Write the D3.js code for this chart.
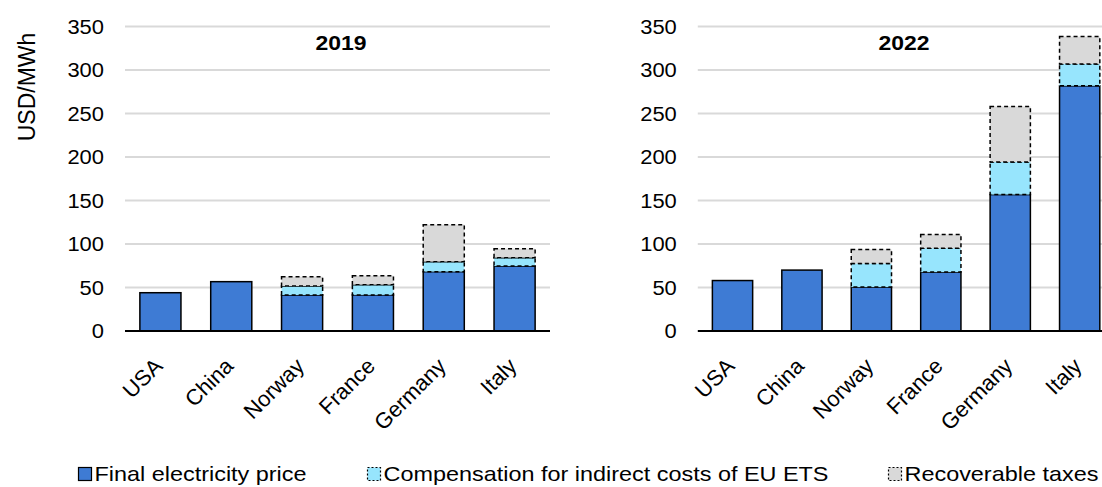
<!DOCTYPE html>
<html lang="en">
<head>
<meta charset="UTF-8">
<title>Electricity prices 2019 vs 2022</title>
<style>
  body { margin: 0; background: #fff; }
  text { font-family: "Liberation Sans", Arial, sans-serif; fill: #000; }
  .grid line { stroke: #d9d9d9; stroke-width: 2px; }
  .baseline { stroke: #000; stroke-width: 2px; }
  .tick-label { font-size: 20.5px; }
  .cat-label { font-size: 22px; }
  .title { font-size: 20.5px; font-weight: bold; }
  .legend text { font-size: 21px; }
</style>
</head>
<body>
<svg width="1102" height="487"></svg>
<script src="https://d3js.org/d3.v7.min.js"></script>
<script>
var categories = ["USA", "China", "Norway", "France", "Germany", "Italy"];
var yTicks = [0, 50, 100, 150, 200, 250, 300, 350];

var final2019 = [44, 56.7, 41.4, 41.5, 68.2, 74.7];
var comp2019  = [0, 0, 10.3, 11.7, 11.5, 9.6];
var tax2019   = [0, 0, 10.7, 10.4, 42.5, 10.3];

var final2022 = [58, 70, 50.5, 67.7, 156.8, 281.8];
var comp2022  = [0, 0, 27.1, 27.5, 37.5, 25.2];
var tax2022   = [0, 0, 16.1, 15.7, 63.7, 31.4];

var seriesKeys = ["final", "comp", "tax"];
var seriesNames = ["Final electricity price", "Compensation for indirect costs of EU ETS", "Recoverable taxes"];
var colors = { final: "#3e7bd4", comp: "#97e5fd", tax: "#d9d9d9" };

var svg = d3.select("svg");

function rows(f, c, t) {
  return categories.map(function(name, i) {
    return { name: name, final: f[i], comp: c[i], tax: t[i] };
  });
}

function panel(opts) {
  var x = d3.scaleBand().domain(categories).range([opts.x0, opts.x1])
      .paddingInner(0.42).paddingOuter(0.21);
  var y = d3.scaleLinear().domain([0, 350]).range([331, 26.5]);
  var g = svg.append("g");

  // gridlines
  g.append("g").attr("class", "grid")
    .selectAll("line").data(yTicks.slice(1)).enter().append("line")
    .attr("x1", opts.x0).attr("x2", Math.min(opts.x1, 1102))
    .attr("y1", function(d) { return y(d); })
    .attr("y2", function(d) { return y(d); });

  // y tick labels (slightly wide glyphs, as in the original)
  g.selectAll(".tick-label").data(yTicks).enter().append("text")
    .attr("class", "tick-label")
    .attr("transform", function(d) { return "translate(" + (opts.x0 - 21) + "," + y(d) + ") scale(1.07,1)"; })
    .attr("dy", "0.35em")
    .attr("text-anchor", "end")
    .text(function(d) { return d; });

  var stacked = d3.stack().keys(seriesKeys)(opts.data);

  stacked.forEach(function(s) {
    g.append("g").selectAll("rect")
      .data(s.filter(function(d) { return d[1] - d[0] > 0; }))
      .enter().append("rect")
      .attr("x", function(d) { return x(d.data.name); })
      .attr("width", x.bandwidth())
      .attr("y", function(d) { return y(d[1]); })
      .attr("height", function(d) { return y(d[0]) - y(d[1]); })
      .attr("fill", colors[s.key])
      .attr("stroke", "#000")
      .attr("stroke-width", 1.5)
      .attr("stroke-dasharray", s.key === "final" ? null : "4,3");
  });

  g.append("line").attr("class", "baseline")
    .attr("x1", opts.x0).attr("x2", Math.min(opts.x1, 1102))
    .attr("y1", y(0)).attr("y2", y(0));

  // category labels
  g.selectAll(".cat-label").data(categories).enter().append("text")
    .attr("class", "cat-label")
    .attr("text-anchor", "end")
    .attr("dy", "0.35em")
    .attr("transform", function(d) {
      return "translate(" + (x(d) + x.bandwidth() / 2 - 2) + ",362) rotate(-45)";
    })
    .text(function(d) { return d; });

  g.append("text").attr("class", "title")
    .attr("transform", "translate(" + opts.titleX + ",50) scale(1.12,1)")
    .attr("text-anchor", "middle")
    .text(opts.title);
}

panel({ x0: 125, x1: 550, data: rows(final2019, comp2019, tax2019), title: "2019", titleX: 341 });
panel({ x0: 697.8, x1: 1114.4, data: rows(final2022, comp2022, tax2022), title: "2022", titleX: 904 });

// y axis title
svg.append("text")
  .attr("transform", "translate(27,87) rotate(-90)")
  .attr("dy", "0.35em")
  .attr("text-anchor", "middle")
  .style("font-size", "23px")
  .text("USD/MWh");

// legend
var legendX = [78, 367, 888];
var legend = svg.append("g").attr("class", "legend");
seriesKeys.forEach(function(k, i) {
  var lg = legend.append("g").attr("transform", "translate(" + legendX[i] + ",474)");
  lg.append("rect")
    .attr("x", 0.5).attr("y", -6.5).attr("width", 13).attr("height", 13)
    .attr("fill", colors[k]).attr("stroke", "#000").attr("stroke-width", 1.2)
    .attr("stroke-dasharray", k === "final" ? null : "2,2");
  lg.append("text")
    .attr("transform", "translate(16.5,0) scale(1.115,1)")
    .attr("dy", "0.35em").text(seriesNames[i]);
});
</script>
</body>
</html>
